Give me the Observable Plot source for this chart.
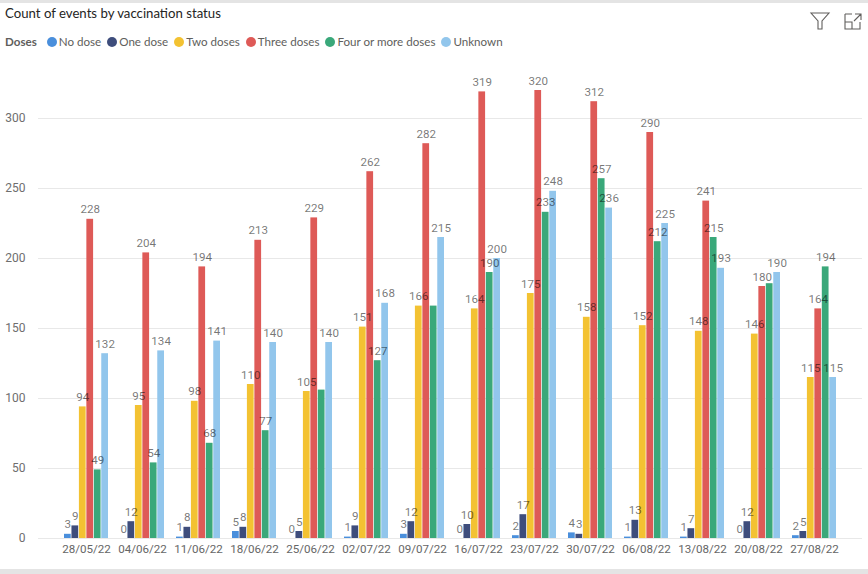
<!DOCTYPE html>
<html>
<head>
<meta charset="utf-8">
<script src="https://cdn.jsdelivr.net/npm/d3@7"></script>
<script src="https://cdn.jsdelivr.net/npm/@observablehq/plot@0.6"></script>
<style>
  html, body { margin: 0; padding: 0; }
  body { width: 868px; height: 574px; background: #e4e4e4; overflow: hidden; position: relative; font-family: Lato, sans-serif; }
  #card { position: absolute; left: 0; top: 3px; width: 868px; height: 566px; background: #fff; overflow: hidden; }
  #title { position: absolute; left: 5px; top: 2px; font-size: 13.2px; color: #252423; white-space: nowrap; }
  #legend { position: absolute; left: 5px; top: 32px; font-size: 11.6px; color: #605e5c; display: flex; align-items: center; white-space: nowrap; }
  #legend .head { font-weight: bold; margin-right: 10px; }
  #legend .item { display: flex; align-items: center; margin-right: 6px; }
  #legend .dot { width: 10px; height: 10px; border-radius: 50%; margin-right: 2px; }
  #icons { position: absolute; top: 7px; left: 808px; }
  #chart { position: absolute; left: 0; top: 57px; }
</style>
</head>
<body>
<div id="card">
  <div id="title">Count of events by vaccination status</div>
  <div id="legend"></div>
  <svg id="icons" width="56" height="22" viewBox="0 0 56 22">
    <path d="M3 3 H21 L14 11 V19 H10 V11 Z" fill="none" stroke="#605e5c" stroke-width="1.1"/>
    <path d="M37 4 H44 M37 4 V19 H52 V12 M47 4 H53 V10 M53 4 L46 11 M37 12 H44 V19" fill="none" stroke="#605e5c" stroke-width="1.1"/>
  </svg>
  <div id="chart"></div>
</div>
<script>
// ---- data ----
const dates = ["28/05/22","04/06/22","11/06/22","18/06/22","25/06/22","02/07/22","09/07/22","16/07/22","23/07/22","30/07/22","06/08/22","13/08/22","20/08/22","27/08/22"];
const seriesNames = ["No dose","One dose","Two doses","Three doses","Four or more doses","Unknown"];
const seriesColors = ["#4a8fdc","#3e4d7c","#f3c232","#de5a57","#3aa87a","#92c6ec"];
const noDose     = [3, 0, 1, 5, 0, 1, 3, 0, 2, 4, 1, 1, 0, 2];
const oneDose    = [9, 12, 8, 8, 5, 9, 12, 10, 17, 3, 13, 7, 12, 5];
const twoDoses   = [94, 95, 98, 110, 105, 151, 166, 164, 175, 158, 152, 148, 146, 115];
const threeDoses = [228, 204, 194, 213, 229, 262, 282, 319, 320, 312, 290, 241, 180, 164];
const fourPlus   = [49, 54, 68, 77, 106, 127, 166, 190, 233, 257, 212, 215, 182, 194];
const unknown    = [132, 134, 141, 140, 140, 168, 215, 200, 248, 236, 225, 193, 190, 115];
const yTicks = [0, 50, 100, 150, 200, 250, 300];

const seriesValues = [noDose, oneDose, twoDoses, threeDoses, fourPlus, unknown];

// ---- legend ----
const legend = document.getElementById("legend");
legend.innerHTML = `<span class="head">Doses</span>` + seriesNames.map((n, i) =>
  `<span class="item"><span class="dot" style="background:${seriesColors[i]}"></span>${n}</span>`).join("");

// ---- layout ----
const W = 868, H = 508;
const mL = 38, mR = 6, mT = 16, mB = 30;
const padIn = 0.21, padOut = 0.384;
const step = (W - mL - mR) / (dates.length - padIn + 2 * padOut);
const bandW = step * (1 - padIn);
const barW = bandW / seriesNames.length;
const yMax = 330;
const pxPerUnit = (H - mT - mB) / yMax;

// rows
const rows = [];
dates.forEach((d, i) => {
  seriesNames.forEach((s, k) => rows.push({date: d, series: s, k, value: seriesValues[k][i]}));
});

// hide labels that would collide with an earlier label in the same group
const digitW = 6.7, labelH = 12;
const labelRows = [];
dates.forEach(d => {
  const placed = [];
  rows.filter(r => r.date === d).forEach(r => {
    const w = String(r.value).length * digitW;
    const cx = (r.k + 0.5) * barW;
    const cy = r.value * pxPerUnit;
    const hit = placed.some(p => Math.abs(p.cx - cx) < (p.w + w) / 2 && Math.abs(p.cy - cy) < labelH);
    if (!hit) { placed.push({cx, cy, w}); labelRows.push(r); }
  });
});

const marks = [
  Plot.gridY(yTicks, {stroke: "#e8e8e8", strokeOpacity: 1, strokeWidth: 1}),
  Plot.axisY({ticks: yTicks, tickSize: 0, tickPadding: 13, label: null, fill: "#6e6e6e", fontSize: 12}),
  Plot.axisX({tickSize: 0, tickPadding: 6, label: null, fill: "#666", fontSize: 11.6})
];
seriesNames.forEach((s, k) => {
  marks.push(Plot.barY(rows.filter(r => r.k === k), {
    x: "date", y: "value", fill: seriesColors[k],
    insetLeft: k * barW, insetRight: (seriesNames.length - 1 - k) * barW
  }));
});
seriesNames.forEach((s, k) => {
  marks.push(Plot.text(labelRows.filter(r => r.k === k), {
    x: "date", y: "value", text: d => String(d.value),
    dx: -bandW / 2 + (k + 0.5) * barW, dy: -6, lineAnchor: "bottom",
    fill: "#000", fillOpacity: 0.55, fontSize: 11.6
  }));
});

const chart = Plot.plot({
  width: W, height: H,
  marginLeft: mL, marginRight: mR, marginTop: mT, marginBottom: mB,
  style: {fontFamily: "Roboto, sans-serif", fontSize: "12px", background: "transparent"},
  x: {type: "band", domain: dates, paddingInner: padIn, paddingOuter: padOut, align: 0.5},
  y: {domain: [0, yMax]},
  marks
});
document.getElementById("chart").appendChild(chart);
</script>
</body>
</html>
